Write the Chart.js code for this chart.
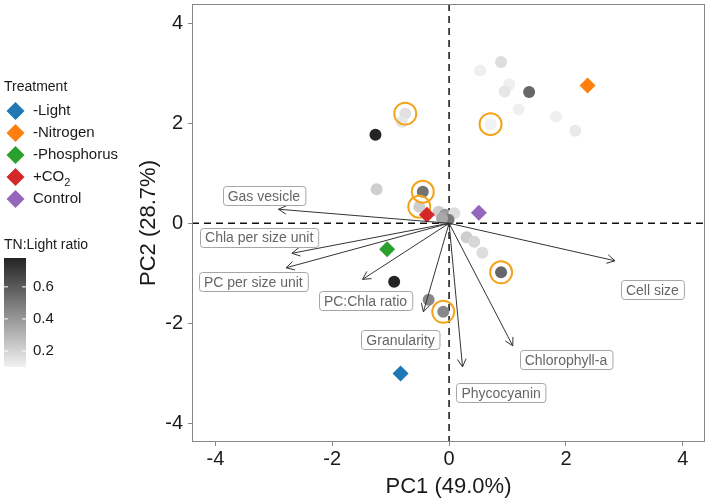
<!DOCTYPE html>
<html>
<head>
<meta charset="utf-8">
<script src="https://cdn.jsdelivr.net/npm/chart.js@4/dist/chart.umd.min.js"></script>
<style>
  html, body { margin: 0; padding: 0; background: #fff; }
  #wrap { width: 709px; height: 500px; }
</style>
</head>
<body>
<div id="wrap"><canvas id="pcaChart"></canvas></div>
<script>
// samples (grey points, shaded by TN:Light ratio)
const sampleX =     [-0.75, -0.81, -1.26, -1.24, -0.45, -0.51, -0.18, -0.07, 0.09, -0.01, -0.12, 0.53, 0.89, 1.03, 0.95, 1.37, 1.19, 1.83, 2.16, 0.71, 0.30, 0.43, 0.57, 0.89, -0.35, -0.10, -0.94];
const sampleY =     [2.19, 2.03, 1.77, 0.68, 0.63, 0.33, 0.23, 0.17, 0.20, 0.07, 0.10, 3.05, 3.22, 2.77, 2.63, 2.62, 2.27, 2.13, 1.85, 1.98, -0.28, -0.37, -0.59, -0.98, -1.53, -1.77, -1.17];
const sampleRatio = [0.16, 0.14, 0.78, 0.22, 0.52, 0.22, 0.22, 0.39, 0.17, 0.50, 0.34, 0.11, 0.17, 0.11, 0.14, 0.56, 0.11, 0.11, 0.13, 0.10, 0.22, 0.19, 0.17, 0.56, 0.45, 0.45, 0.78];
const sampleCircled = [true, false, false, false, true, true, false, false, false, false, false, false, false, false, false, false, false, false, false, true, false, false, false, true, false, true, false];

// treatments (diamonds)
const treatNames = ['-Light', '-Nitrogen', '-Phosphorus', '+CO2', 'Control'];
const treatX = [-0.83, 2.37, -1.06, -0.38, 0.51];
const treatY = [-3.00, 2.75, -0.52, 0.17, 0.21];
const treatColors = ['#1f77b4', '#ff7f0e', '#2ca02c', '#d62728', '#9467bd'];

// loadings (arrows) and their label positions
const loadNames = ['Gas vesicle', 'Chla per size unit', 'PC per size unit', 'PC:Chla ratio', 'Granularity', 'Phycocyanin', 'Chlorophyll-a', 'Cell size'];
const loadX = [-2.92, -2.69, -2.79, -1.48, -0.44, 0.23, 1.09, 2.84];
const loadY = [0.28, -0.60, -0.89, -1.12, -1.77, -2.87, -2.45, -0.75];
const labelX = [-3.17, -3.25, -3.35, -1.43, -0.83, 0.89, 2.00, 3.48];
const labelY = [0.55, -0.28, -1.17, -1.55, -2.33, -3.39, -2.73, -1.33];

const xTicks = [-4, -2, 0, 2, 4];
const yTicks = [-4, -2, 0, 2, 4];
const ratioTicks = [0.2, 0.4, 0.6];

const FONT = '"Liberation Sans", Arial, sans-serif';
const rMin = Math.min(...sampleRatio);
const rMax = Math.max(...sampleRatio);

function greyFor(r) {
    const f = (r - rMin) / (rMax - rMin);
    const g = Math.round(242 - f * 206);
    return 'rgb(' + g + ',' + g + ',' + g + ')';
}

const datasets = [];

// arrows
loadNames.forEach((name, i) => {
    datasets.push({
        type: 'line',
        label: name,
        data: [{x: 0, y: 0}, {x: loadX[i], y: loadY[i]}],
        borderColor: '#333',
        borderWidth: 1,
        pointRadius: 0,
        order: 1
    });
});

datasets.push({
    label: 'treatments',
    data: treatX.map((x, i) => ({x: x, y: treatY[i]})),
    pointStyle: 'rectRot',
    pointRadius: 8,
    pointBackgroundColor: treatColors,
    pointBorderWidth: 0,
    order: 2
});

datasets.push({
    label: 'circled',
    data: sampleX.map((x, i) => ({x: x, y: sampleY[i]})).filter((p, i) => sampleCircled[i]),
    pointRadius: 11,
    pointBackgroundColor: 'rgba(0,0,0,0)',
    pointBorderColor: '#f3a41d',
    pointBorderWidth: 2,
    order: 3
});

datasets.push({
    label: 'samples',
    data: sampleX.map((x, i) => ({x: x, y: sampleY[i]})),
    pointRadius: 6,
    pointBackgroundColor: sampleRatio.map(greyFor),
    pointBorderWidth: 0,
    order: 4
});

const biplotPlugin = {
    id: 'biplot',
    beforeDatasetsDraw(chart) {
        const {ctx, chartArea: a, scales: {x, y}} = chart;
        ctx.save();
        ctx.strokeStyle = '#111';
        ctx.lineWidth = 1.5;
        ctx.setLineDash([7, 5]);
        ctx.beginPath();
        ctx.moveTo(x.getPixelForValue(0), a.top);
        ctx.lineTo(x.getPixelForValue(0), a.bottom);
        ctx.moveTo(a.left, y.getPixelForValue(0));
        ctx.lineTo(a.right, y.getPixelForValue(0));
        ctx.stroke();
        ctx.restore();
    },
    afterDatasetsDraw(chart) {
        const {ctx, chartArea: a, scales: {x, y}} = chart;
        ctx.save();
        // plot border
        ctx.strokeStyle = '#888';
        ctx.lineWidth = 1;
        ctx.strokeRect(a.left + 0.5, a.top + 0.5, a.right - a.left - 1, a.bottom - a.top - 1);

        // arrow heads
        const x0 = x.getPixelForValue(0), y0 = y.getPixelForValue(0);
        ctx.strokeStyle = '#333';
        loadNames.forEach((n, i) => {
            const tx = x.getPixelForValue(loadX[i]), ty = y.getPixelForValue(loadY[i]);
            const ang = Math.atan2(ty - y0, tx - x0);
            ctx.beginPath();
            ctx.moveTo(tx - 9 * Math.cos(ang - 0.5), ty - 9 * Math.sin(ang - 0.5));
            ctx.lineTo(tx, ty);
            ctx.lineTo(tx - 9 * Math.cos(ang + 0.5), ty - 9 * Math.sin(ang + 0.5));
            ctx.stroke();
        });

        // loading labels
        ctx.font = '14px ' + FONT;
        ctx.textAlign = 'center';
        ctx.textBaseline = 'middle';
        loadNames.forEach((n, i) => {
            const cx = x.getPixelForValue(labelX[i]), cy = y.getPixelForValue(labelY[i]);
            const w = ctx.measureText(n).width + 10, h = 19;
            ctx.beginPath();
            ctx.roundRect(Math.round(cx - w / 2) + 0.5, Math.round(cy - h / 2) + 0.5, w, h, 3);
            ctx.fillStyle = '#fff';
            ctx.fill();
            ctx.strokeStyle = '#a6a6a6';
            ctx.stroke();
            ctx.fillStyle = '#666';
            ctx.fillText(n, cx, cy + 1);
        });

        // treatment legend
        ctx.textAlign = 'left';
        ctx.fillStyle = '#1a1a1a';
        ctx.font = '14px ' + FONT;
        ctx.fillText('Treatment', 4, 87);
        treatNames.forEach((n, i) => {
            const cy = 111 + i * 22;
            ctx.fillStyle = treatColors[i];
            ctx.beginPath();
            ctx.moveTo(15.5, cy - 9);
            ctx.lineTo(24.5, cy);
            ctx.lineTo(15.5, cy + 9);
            ctx.lineTo(6.5, cy);
            ctx.closePath();
            ctx.fill();
            ctx.fillStyle = '#1a1a1a';
            ctx.font = '15px ' + FONT;
            if (n === '+CO2') {
                ctx.fillText('+CO', 33, cy);
                const w = ctx.measureText('+CO').width;
                ctx.font = '11px ' + FONT;
                ctx.fillText('2', 33 + w, cy + 6);
            } else {
                ctx.fillText(n, 33, cy);
            }
        });

        // colour bar
        ctx.font = '14px ' + FONT;
        ctx.fillStyle = '#1a1a1a';
        ctx.fillText('TN:Light ratio', 4, 245);
        const barTop = 258, barBot = 367, bx = 4, bw = 22;
        const grad = ctx.createLinearGradient(0, barTop, 0, barBot);
        grad.addColorStop(0, greyFor(rMax));
        grad.addColorStop(1, greyFor(rMin));
        ctx.fillStyle = grad;
        ctx.fillRect(bx, barTop, bw, barBot - barTop);
        ctx.font = '15px ' + FONT;
        ratioTicks.forEach(t => {
            const ty = barBot - (t - rMin) / (rMax - rMin) * (barBot - barTop);
            ctx.strokeStyle = '#fff';
            ctx.beginPath();
            ctx.moveTo(bx, ty); ctx.lineTo(bx + 4, ty);
            ctx.moveTo(bx + bw - 4, ty); ctx.lineTo(bx + bw, ty);
            ctx.stroke();
            ctx.fillStyle = '#1a1a1a';
            ctx.fillText(t.toFixed(1), 33, ty);
        });
        ctx.restore();
    }
};

new Chart(document.getElementById('pcaChart'), {
    type: 'scatter',
    data: { datasets: datasets },
    options: {
        responsive: true,
        maintainAspectRatio: false,
        animation: false,
        layout: { autoPadding: false, padding: { left: 136, top: 4, right: 4, bottom: 0 } },
        plugins: { legend: { display: false }, tooltip: { enabled: false } },
        scales: {
            x: {
                min: -4.4, max: 4.38,
                afterBuildTicks: s => { s.ticks = xTicks.map(v => ({value: v})); },
                afterFit: s => { s.height = 58; s.paddingLeft = 0; s.paddingRight = 0; },
                grid: { drawOnChartArea: false, tickLength: 4, color: '#888' },
                border: { display: false },
                ticks: { color: '#1a1a1a', font: { size: 20, family: FONT }, padding: 1 },
                title: { display: true, text: 'PC1 (49.0%)', color: '#1a1a1a', font: { size: 22, family: FONT }, padding: 0 }
            },
            y: {
                min: -4.37, max: 4.38,
                afterBuildTicks: s => { s.ticks = yTicks.map(v => ({value: v})); },
                afterFit: s => { s.width = 56; s.paddingTop = 0; s.paddingBottom = 0; },
                grid: { drawOnChartArea: false, tickLength: 4, color: '#888' },
                border: { display: false },
                ticks: { color: '#1a1a1a', font: { size: 20, family: FONT }, padding: 5 },
                title: { display: true, text: 'PC2 (28.7%)', color: '#1a1a1a', font: { size: 22, family: FONT }, padding: 0 }
            }
        }
    },
    plugins: [biplotPlugin]
});
</script>
</body>
</html>
